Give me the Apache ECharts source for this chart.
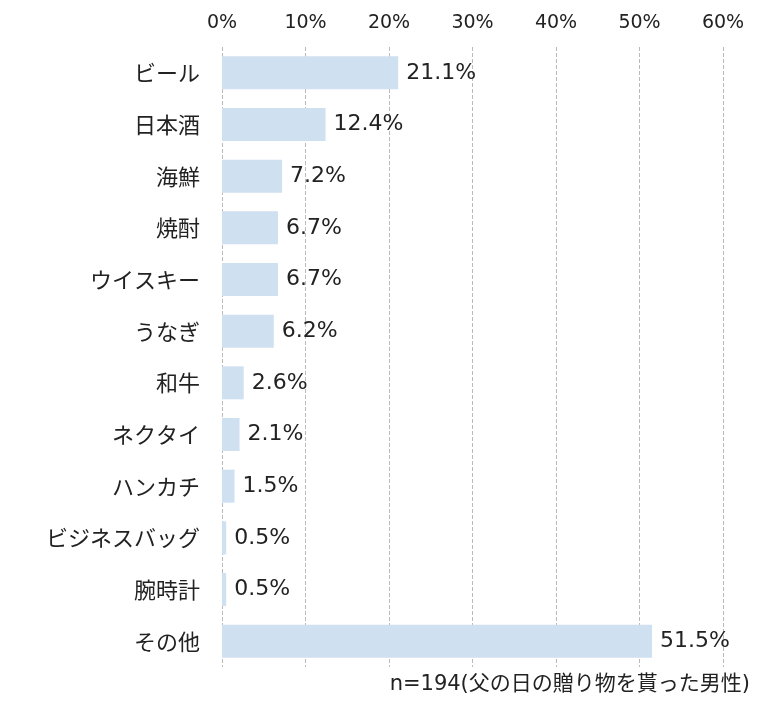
<!DOCTYPE html><html><head><meta charset="utf-8"><script src="https://cdn.jsdelivr.net/npm/echarts@6/dist/echarts.min.js"></script></head><body style="margin:0"><div id="c" style="width:764px;height:715px"></div><script>
const categories=["ビール","日本酒","海鮮","焼酎","ウイスキー","うなぎ","和牛","ネクタイ","ハンカチ","ビジネスバッグ","腕時計","その他"];
const values=[21.1,12.4,7.2,6.7,6.7,6.2,2.6,2.1,1.5,0.5,0.5,51.5];
const xTicks=[0,10,20,30,40,50,60];
const note="n=194(父の日の贈り物を貰った男性)";
const F='"DejaVu Sans", "Noto Sans CJK JP", sans-serif';
const ch=echarts.init(document.getElementById('c'));
ch.setOption({
 animation:false,
 grid:{left:222,right:41,top:47,bottom:48},
 xAxis:{type:'value',position:'top',min:0,max:60,interval:10,
  axisLabel:{formatter:'{value}%',fontSize:19,color:'#222',fontFamily:F,margin:14},
  axisLine:{show:false},axisTick:{show:false},
  splitLine:{lineStyle:{type:'dashed',color:'#bbb'}}},
 yAxis:{type:'category',data:categories,inverse:true,
  axisLabel:{fontSize:22,color:'#222',fontFamily:'"Noto Sans CJK JP", sans-serif',margin:22},
  axisLine:{show:false},axisTick:{show:false}},
 series:[{type:'bar',data:values,barWidth:33,itemStyle:{color:'#cfe0f1'},
  label:{show:true,position:'right',formatter:p=>p.value.toFixed(1)+'%',fontSize:22,color:'#222',fontFamily:F,distance:8}}],
 graphic:[{type:'text',right:14,top:674,style:{text:note,fontSize:21,fill:'#222',fontFamily:F}}]
});
</script></body></html>
